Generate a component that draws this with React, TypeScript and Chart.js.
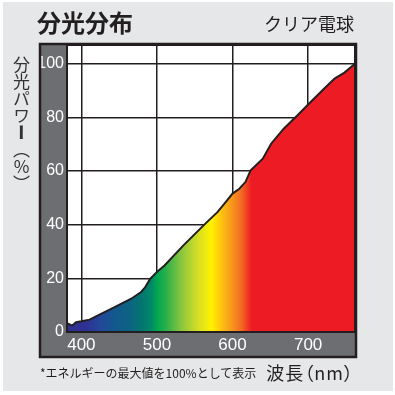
import React, { useEffect, useRef } from "react";
import Chart from "chart.js/auto";

// Spectral power distribution of a clear incandescent bulb
const wavelengths = [381, 388, 393, 400, 411, 422, 444, 466, 479, 484, 491, 501, 510, 535, 564, 580, 589, 600, 609, 617, 624, 640, 651, 668, 686, 701, 719, 735, 748, 762];
const power = [3.3, 2.4, 3.7, 4.0, 4.6, 6.2, 9.3, 12.4, 14.9, 16.5, 19.8, 22.7, 24.8, 32.3, 40.4, 44.7, 47.8, 51.6, 53.4, 55.9, 60.3, 64.6, 70.2, 75.9, 80.8, 85.1, 90.1, 94.5, 96.7, 100];
const xTicks = [400, 500, 600, 700];
const yTicks = [0, 20, 40, 60, 80, 100];

const titleText = "分光分布";
const subtitleText = "クリア電球";
const yTitleA = "分光パワ";
const yTitleB = "ー";
const yTitleC = "（";
const yTitleD = "%";
const yTitleE = "）";
const footnote = "*エネルギーの最大値を100%として表示";
const xTitle = "波長（nm）";

// spectrum gradient stops (wavelength -> colour)
const spectrumStops: [number, string][] = [
  [381, "#2e3192"],
  [405, "#2e3192"],
  [425, "#22489a"],
  [445, "#13588d"],
  [465, "#0c6482"],
  [480, "#03766f"],
  [493, "#008a66"],
  [500, "#00a651"],
  [512, "#2bb04a"],
  [533, "#8dc63f"],
  [555, "#d7df23"],
  [572, "#fff200"],
  [586, "#fdc010"],
  [600, "#f7941d"],
  [612, "#f26a22"],
  [625, "#ed1c24"],
  [762, "#ed1c24"],
];

const frameColor = "#231f20";
const bandColor = "#6d6e71";

const framePlugin = {
  id: "frame",
  beforeDraw(chart: any) {
    const { ctx, chartArea: a } = chart;
    ctx.save();
    ctx.fillStyle = bandColor;
    ctx.fillRect(a.left - 27, a.top - 1, a.right - a.left + 28, a.bottom - a.top + 26);
    ctx.fillStyle = "#ffffff";
    ctx.fillRect(a.left, a.top, a.right - a.left, a.bottom - a.top);
    ctx.restore();
  },
  afterDraw(chart: any) {
    const { ctx, chartArea: a } = chart;
    ctx.save();
    ctx.strokeStyle = frameColor;
    ctx.lineWidth = 2;
    ctx.strokeRect(a.left, a.top, a.right - a.left, a.bottom - a.top);
    ctx.lineWidth = 2.5;
    ctx.strokeRect(a.left - 27, a.top - 1, a.right - a.left + 28, a.bottom - a.top + 26);
    ctx.restore();
  },
};

export default function App() {
  const ref = useRef<HTMLCanvasElement | null>(null);

  useEffect(() => {
    document.body.style.margin = "0";
    const canvas = ref.current;
    if (!canvas) return;
    const chart = new Chart(canvas, {
      type: "line",
      data: {
        datasets: [
          {
            data: wavelengths.map((w, i) => ({ x: w, y: power[i] })),
            borderColor: frameColor,
            borderWidth: 2,
            pointRadius: 0,
            tension: 0,
            fill: "origin",
            backgroundColor: (c: any) => {
              const ch = c.chart;
              const a = ch.chartArea;
              if (!a) return "#ed1c24";
              const xs = ch.scales.x;
              const x0 = xs.getPixelForValue(spectrumStops[0][0]);
              const x1 = xs.getPixelForValue(spectrumStops[spectrumStops.length - 1][0]);
              const g = ch.ctx.createLinearGradient(x0, 0, x1, 0);
              spectrumStops.forEach(([w, col]) => {
                const p = (xs.getPixelForValue(w) - x0) / (x1 - x0);
                g.addColorStop(Math.min(1, Math.max(0, p)), col);
              });
              return g;
            },
          },
        ],
      },
      options: {
        animation: false,
        responsive: true,
        maintainAspectRatio: false,
        layout: { padding: { left: 41, right: 40, top: 45, bottom: 38 } },
        plugins: { legend: { display: false }, tooltip: { enabled: false } },
        scales: {
          x: {
            type: "linear",
            min: 381,
            max: 762,
            z: 1,
            afterBuildTicks: (s: any) => {
              s.ticks = xTicks.map((v) => ({ value: v }));
            },
            afterFit: (s: any) => {
              s.height = 25;
            },
            grid: { color: frameColor, lineWidth: 1.5, drawTicks: false },
            border: { display: false },
            ticks: {
              color: "#ffffff",
              padding: 3,
              maxRotation: 0,
              autoSkip: false,
              font: { family: "'Liberation Sans', Arial, sans-serif", size: 17 },
            },
          },
          y: {
            type: "linear",
            min: 0,
            max: 107,
            z: 1,
            afterBuildTicks: (s: any) => {
              s.ticks = yTicks.map((v) => ({ value: v }));
            },
            afterFit: (s: any) => {
              s.width = 26;
            },
            grid: { color: frameColor, lineWidth: 1.5, drawTicks: false },
            border: { display: false },
            ticks: {
              color: "#ffffff",
              padding: 3,
              autoSkip: false,
              font: { family: "'Liberation Sans', Arial, sans-serif", size: 16 },
            },
          },
        },
      },
      plugins: [framePlugin],
    });
    return () => chart.destroy();
  }, []);

  const jp = "'Noto Sans CJK JP', 'Noto Sans', sans-serif";
  return (
    <div style={{ position: "absolute", left: 0, top: 0, width: 395, height: 395, background: "#ffffff", overflow: "hidden" }}>
      <div style={{ position: "absolute", left: 3, top: 2, width: 390, height: 389, background: "#e6e7e8" }} />
      <div style={{ position: "absolute", left: 0, top: 0, width: 395, height: 395 }}>
        <canvas ref={ref} />
      </div>
      <div style={{ position: "absolute", left: 37, top: 10, fontFamily: jp, fontWeight: 700, fontSize: 24, lineHeight: 1, color: frameColor }}>
        {titleText}
      </div>
      <div style={{ position: "absolute", right: 41, top: 14, fontFamily: jp, fontSize: 18, lineHeight: 1, color: frameColor }}>
        {subtitleText}
      </div>
      <div style={{ position: "absolute", left: 13, top: 56, fontFamily: jp, fontSize: 17, lineHeight: 1, color: "#333333", writingMode: "vertical-rl" as any }}>
        {yTitleA}
        <span style={{ fontWeight: 900 }}>{yTitleB}</span>
        {yTitleC}
        <span style={{ textOrientation: "upright" as any }}>{yTitleD}</span>
        {yTitleE}
      </div>
      <div style={{ position: "absolute", left: 40, top: 367, fontFamily: jp, fontSize: 12, lineHeight: 1, color: frameColor, whiteSpace: "nowrap" }}>
        {footnote}
      </div>
      <div style={{ position: "absolute", right: 41, top: 363, fontFamily: jp, fontSize: 18, lineHeight: 1, letterSpacing: 1, fontFeatureSettings: '"palt"', color: frameColor, whiteSpace: "nowrap" }}>
        {xTitle}
      </div>
    </div>
  );
}
